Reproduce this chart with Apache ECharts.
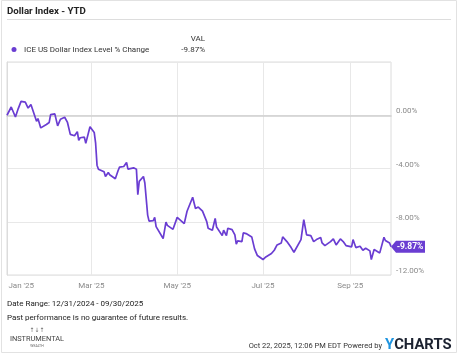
<!DOCTYPE html>
<html><head><meta charset="utf-8">
<script src="https://cdn.jsdelivr.net/npm/echarts@6/dist/echarts.min.js"></script>
<style>html,body{margin:0;padding:0;background:#fff}#c{width:458px;height:355px}</style>
</head><body><div id="c"></div>
<script>
const seriesName = 'ICE US Dollar Index Level % Change';
const dates = ['2024-12-31','2025-01-03','2025-01-06','2025-01-08','2025-01-10','2025-01-13','2025-01-15','2025-01-17','2025-01-21','2025-01-22','2025-01-24','2025-01-28','2025-01-30','2025-01-31','2025-02-03','2025-02-05','2025-02-07','2025-02-10','2025-02-12','2025-02-14','2025-02-17','2025-02-19','2025-02-20','2025-02-21','2025-02-24','2025-02-25','2025-02-28','2025-03-03','2025-03-04','2025-03-05','2025-03-06','2025-03-07','2025-03-10','2025-03-11','2025-03-13','2025-03-14','2025-03-18','2025-03-20','2025-03-21','2025-03-24','2025-03-26','2025-03-27','2025-03-31','2025-04-01','2025-04-02','2025-04-03','2025-04-04','2025-04-07','2025-04-08','2025-04-09','2025-04-10','2025-04-11','2025-04-14','2025-04-15','2025-04-16','2025-04-17','2025-04-21','2025-04-23','2025-04-24','2025-04-25','2025-04-28','2025-05-01','2025-05-02','2025-05-06','2025-05-08','2025-05-09','2025-05-12','2025-05-14','2025-05-16','2025-05-19','2025-05-22','2025-05-23','2025-05-26','2025-05-28','2025-05-29','2025-05-30','2025-06-02','2025-06-03','2025-06-05','2025-06-06','2025-06-09','2025-06-11','2025-06-12','2025-06-13','2025-06-16','2025-06-17','2025-06-19','2025-06-20','2025-06-23','2025-06-25','2025-06-27','2025-07-01','2025-07-03','2025-07-07','2025-07-09','2025-07-11','2025-07-14','2025-07-15','2025-07-16','2025-07-18','2025-07-21','2025-07-23','2025-07-28','2025-07-29','2025-07-30','2025-07-31','2025-08-01','2025-08-04','2025-08-06','2025-08-08','2025-08-11','2025-08-12','2025-08-13','2025-08-14','2025-08-18','2025-08-20','2025-08-21','2025-08-22','2025-08-25','2025-08-27','2025-08-29','2025-09-02','2025-09-03','2025-09-04','2025-09-05','2025-09-08','2025-09-10','2025-09-12','2025-09-15','2025-09-16','2025-09-18','2025-09-19','2025-09-22','2025-09-23','2025-09-25','2025-09-26','2025-09-29','2025-09-30'];
const values = [0.00,0.62,-0.13,0.50,1.04,0.99,0.54,0.80,-0.45,-0.25,-0.95,-0.69,-0.54,0.05,0.10,-0.80,-0.30,-0.15,-0.54,-1.44,-1.54,-1.24,-1.89,-1.69,-1.64,-2.11,-0.87,-1.29,-2.10,-3.75,-4.05,-4.20,-4.25,-4.60,-4.30,-4.47,-4.77,-4.15,-3.90,-3.85,-3.55,-4.05,-3.95,-3.97,-4.05,-5.96,-4.97,-4.60,-5.09,-5.04,-7.50,-7.95,-7.92,-7.67,-8.37,-8.47,-9.26,-8.03,-8.27,-8.12,-8.57,-7.67,-7.75,-8.14,-7.21,-7.30,-6.16,-7.00,-6.90,-7.20,-7.99,-8.49,-8.64,-7.75,-8.40,-8.55,-9.04,-8.64,-9.04,-8.49,-8.59,-8.99,-9.69,-9.44,-9.49,-8.84,-8.89,-9.04,-9.14,-10.04,-10.54,-10.84,-10.64,-10.39,-10.14,-9.74,-9.59,-9.14,-9.29,-9.49,-9.94,-10.29,-9.34,-8.59,-7.84,-7.74,-8.99,-9.04,-9.49,-9.34,-9.19,-9.59,-9.49,-9.79,-9.49,-9.29,-9.14,-9.74,-9.29,-9.49,-9.79,-9.89,-9.34,-9.39,-9.94,-9.84,-10.14,-9.99,-10.19,-10.84,-10.09,-10.14,-10.34,-10.30,-9.17,-9.41,-9.60,-9.87];
const labelDates = ['2025-01-01','2025-03-01','2025-05-01','2025-07-01','2025-09-01'];
const labelTexts = ["Jan '25","Mar '25","May '25","Jul '25","Sep '25"];
const gridDates = ['2025-03-01','2025-05-01','2025-07-01','2025-09-01'];
const axisMin = '2024-12-31';
const axisMax = '2025-09-30';
const yMin = -12, yMax = 4, yStep = 4;

// x positions are days elapsed since the axis start date
function ts(s){ const p = s.split('-').map(Number); return Date.UTC(p[0], p[1]-1, p[2]); }
function day(s){ return Math.round((ts(s) - ts(axisMin)) / 86400000); }
const purple = '#6a3dd2';
const FONT = 'Roboto';
const lastVal = values[values.length-1];
const lastDate = dates[dates.length-1];
const fmtPct = v => v.toFixed(2) + '%';
const labelMap = {};
labelDates.forEach((d,i) => { labelMap[day(d)] = labelTexts[i]; });

const chart = echarts.init(document.getElementById('c'), null, {renderer:'canvas'});
chart.setOption({
  animation: false,
  backgroundColor: '#fff',
  grid: { left: 7, right: 67, top: 62, bottom: 80, show: true, borderColor: '#dcdcdc', borderWidth: 1, containLabel: false },
  xAxis: {
    type: 'value',
    min: day(axisMin), max: day(axisMax),
    axisLine: { show: true, lineStyle: { color: '#d0d0d0', width: 1.5 } },
    axisTick: { show: false, customValues: gridDates.map(day) },
    splitLine: { show: true, lineStyle: { color: '#e8e8e8', width: 1 } },
    axisLabel: {
      customValues: labelDates.map(day),
      alignMinLabel: 'left',
      formatter: v => labelMap[Math.round(v)] || '',
      color: '#8a8a8a', fontSize: 8, fontFamily: FONT, margin: 7
    }
  },
  yAxis: {
    type: 'value', position: 'right',
    min: yMin, max: yMax, interval: yStep,
    axisLine: { show: true, lineStyle: { color: '#dcdcdc' } },
    axisTick: { show: false },
    splitLine: { show: true, lineStyle: { color: '#e8e8e8' } },
    axisLabel: {
      formatter: v => v >= yMax ? '' : fmtPct(v),
      color: '#8a8a8a', fontSize: 8, fontFamily: FONT, margin: 5, verticalAlign: 'bottom'
    }
  },
  series: [{
    name: seriesName, type: 'line',
    data: dates.map((d,i) => [day(d), values[i]]),
    showSymbol: false, symbol: 'none',
    lineStyle: { color: purple, width: 1.7 },
    itemStyle: { color: purple },
    markPoint: {
      silent: true,
      symbol: 'path://M0,6 L5,0 L34,0 L34,12 L5,12 Z',
      symbolSize: [34, 12], symbolKeepAspect: false, symbolOffset: [17, 0],
      itemStyle: { color: purple },
      label: { show: true, position: 'inside', offset: [2, 0], formatter: p => fmtPct(p.value), color: '#fff', fontSize: 8.5, fontWeight: 'bold', fontFamily: FONT },
      data: [{ coord: [day(lastDate), lastVal], value: lastVal }]
    }
  }],
  graphic: [
    { type: 'rect', silent: true, shape: { x: 1.5, y: 0.5, width: 455, height: 352 }, style: { fill: 'none', stroke: '#e2e2e2', lineWidth: 1 } },
    { type: 'text', x: 7, y: 11.5, style: { text: 'Dollar Index - YTD', font: 'bold 9.7px Roboto', fill: '#222', verticalAlign: 'middle' } },
    { type: 'line', silent: true, shape: { x1: 7, y1: 19.5, x2: 451, y2: 19.5 }, style: { stroke: '#dddddd', lineWidth: 1 } },
    { type: 'circle', shape: { cx: 14, cy: 49.5, r: 2.5 }, style: { fill: purple } },
    { type: 'text', x: 24, y: 49.5, style: { text: seriesName, font: '8px Roboto', fill: '#333', verticalAlign: 'middle' } },
    { type: 'text', x: 205, y: 39, style: { text: 'VAL', font: '8px Roboto', fill: '#333', align: 'right', verticalAlign: 'middle' } },
    { type: 'text', x: 205, y: 50, style: { text: fmtPct(lastVal), font: '8px Roboto', fill: '#333', align: 'right', verticalAlign: 'middle' } },
    { type: 'text', x: 7, y: 303.5, style: { text: 'Date Range: 12/31/2024 - 09/30/2025', font: '8px Roboto', fill: '#222', verticalAlign: 'middle' } },
    { type: 'text', x: 7, y: 317.5, style: { text: 'Past performance is no guarantee of future results.', font: '8px Roboto', fill: '#222', verticalAlign: 'middle' } },
    { type: 'text', x: 37, y: 330.5, style: { text: '↑↓↑', font: '6px DejaVu Sans', fill: '#666', align: 'center', verticalAlign: 'middle' } },
    { type: 'text', x: 37, y: 339.5, style: { text: 'INSTRUMENTAL', font: '7.4px Roboto', fill: '#444', align: 'center', verticalAlign: 'middle' } },
    { type: 'text', x: 37, y: 346.5, style: { text: 'WEALTH', font: '3.5px Roboto', fill: '#666', align: 'center', verticalAlign: 'middle' } },
    { type: 'text', x: 382, y: 346, style: { text: 'Oct 22, 2025, 12:06 PM EDT Powered by', font: '7.5px Roboto', fill: '#333', align: 'right', verticalAlign: 'middle' } },
    { type: 'text', x: 385, y: 345.5, style: { text: '{a|Y}{b|CHARTS}', verticalAlign: 'middle',
        rich: { a: { fontFamily: FONT, fontWeight: 'bold', fontSize: 14.8, fill: '#1e94e0', color: '#1e94e0' },
                b: { fontFamily: FONT, fontWeight: 'bold', fontSize: 14.8, fill: '#1c2230', color: '#1c2230' } } } }
  ]
});
</script>
</body></html>
